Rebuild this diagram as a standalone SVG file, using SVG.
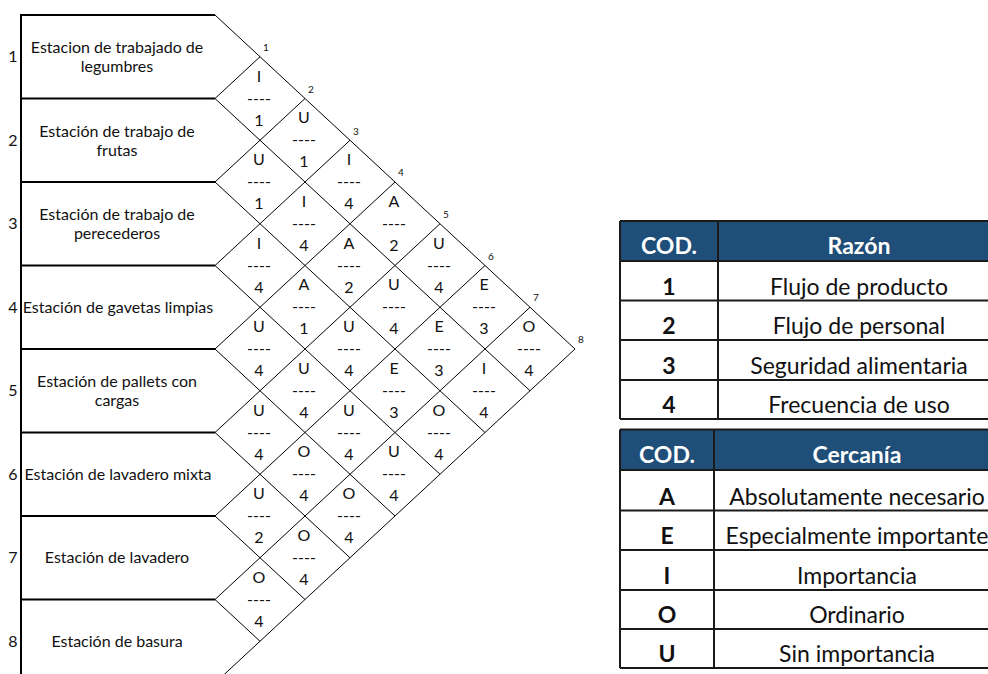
<svg xmlns="http://www.w3.org/2000/svg" width="988" height="674" viewBox="0 0 988 674">
  <style>
    text { font-family: Lato, "Liberation Sans", sans-serif; fill: #111; }
    .frame { stroke: #000; stroke-width: 2; fill: none; }
    .grid line { stroke: #000; stroke-width: 1; }
    .lbl { font-size: 16px; text-anchor: middle; }
    .rn { font-size: 16px; text-anchor: end; }
    .dt { font-size: 16px; text-anchor: middle; }
    .cn { font-size: 10px; }
    .hd { fill: #1F4E79; }
    .tl { stroke: #1a1a1a; stroke-width: 2; fill: none; }
    .th { font-size: 23px; font-weight: bold; fill: #fff; text-anchor: middle; }
    .td { font-size: 23px; text-anchor: middle; }
    .tc { font-size: 23px; font-weight: bold; text-anchor: middle; }
  </style>

  <!-- station boxes -->
  <g id="stations">
    <path class="frame" d="M21 674 V15 H215"/>
    <g id="st1"><line class="frame" x1="21" y1="98.5" x2="215" y2="98.5"/>
      <text class="rn" x="17.5" y="62">1</text>
      <text class="lbl" x="117" y="53">Estacion de trabajado de</text>
      <text class="lbl" x="117" y="72">legumbres</text></g>
    <g id="st2"><line class="frame" x1="21" y1="182" x2="215" y2="182"/>
      <text class="rn" x="17.5" y="145.5">2</text>
      <text class="lbl" x="117" y="136.5">Estación de trabajo de</text>
      <text class="lbl" x="117" y="155.5">frutas</text></g>
    <g id="st3"><line class="frame" x1="21" y1="265.5" x2="215" y2="265.5"/>
      <text class="rn" x="17.5" y="229">3</text>
      <text class="lbl" x="117" y="220">Estación de trabajo de</text>
      <text class="lbl" x="117" y="239">perecederos</text></g>
    <g id="st4"><line class="frame" x1="21" y1="349" x2="215" y2="349"/>
      <text class="rn" x="17.5" y="312.5">4</text>
      <text class="lbl" x="118" y="312.5">Estación de gavetas limpias</text></g>
    <g id="st5"><line class="frame" x1="21" y1="432.5" x2="215" y2="432.5"/>
      <text class="rn" x="17.5" y="396">5</text>
      <text class="lbl" x="117" y="387">Estación de pallets con</text>
      <text class="lbl" x="117" y="406">cargas</text></g>
    <g id="st6"><line class="frame" x1="21" y1="516" x2="215" y2="516"/>
      <text class="rn" x="17.5" y="479.5">6</text>
      <text class="lbl" x="118" y="479.5">Estación de lavadero mixta</text></g>
    <g id="st7"><line class="frame" x1="21" y1="599.5" x2="215" y2="599.5"/>
      <text class="rn" x="17.5" y="563">7</text>
      <text class="lbl" x="117" y="563">Estación de lavadero</text></g>
    <g id="st8">
      <text class="rn" x="17.5" y="646.5">8</text>
      <text class="lbl" x="117" y="646.5">Estación de basura</text></g>
  </g>

  <!-- relationship grid -->
  <g id="connectors" class="grid">
    <line x1="215" y1="15" x2="575" y2="349"/>
    <line x1="575" y1="349" x2="215" y2="683"/>
    <line x1="215" y1="98.5" x2="260" y2="56.75"/>
    <line x1="215" y1="182" x2="305" y2="98.5"/>
    <line x1="215" y1="265.5" x2="350" y2="140.25"/>
    <line x1="215" y1="349" x2="395" y2="182"/>
    <line x1="215" y1="432.5" x2="440" y2="223.75"/>
    <line x1="215" y1="516" x2="485" y2="265.5"/>
    <line x1="215" y1="599.5" x2="530" y2="307.25"/>
    <line x1="215" y1="98.5" x2="530" y2="390.75"/>
    <line x1="215" y1="182" x2="485" y2="432.5"/>
    <line x1="215" y1="265.5" x2="440" y2="474.25"/>
    <line x1="215" y1="349" x2="395" y2="516"/>
    <line x1="215" y1="432.5" x2="350" y2="557.75"/>
    <line x1="215" y1="516" x2="305" y2="599.5"/>
    <line x1="215" y1="599.5" x2="260" y2="641.25"/>
  </g>

  <!-- corner numbers -->
  <g id="corners" class="cn">
    <text x="263" y="51">1</text>
    <text x="308" y="93">2</text>
    <text x="353" y="134.5">3</text>
    <text x="398" y="176">4</text>
    <text x="443" y="218">5</text>
    <text x="488" y="259.5">6</text>
    <text x="533" y="301">7</text>
    <text x="578" y="343">8</text>
  </g>

  <!-- pair ratings: closeness / reason -->
  <g id="pairs" class="dt">
    <g id="p1-2"><text x="259" y="81.5">I<tspan x="259" dy="22">----</tspan><tspan x="259" dy="22">1</tspan></text></g>
    <g id="p2-3"><text x="259" y="165">U<tspan x="259" dy="22">----</tspan><tspan x="259" dy="22">1</tspan></text></g>
    <g id="p3-4"><text x="259" y="248.5">I<tspan x="259" dy="22">----</tspan><tspan x="259" dy="22">4</tspan></text></g>
    <g id="p4-5"><text x="259" y="332">U<tspan x="259" dy="22">----</tspan><tspan x="259" dy="22">4</tspan></text></g>
    <g id="p5-6"><text x="259" y="415.5">U<tspan x="259" dy="22">----</tspan><tspan x="259" dy="22">4</tspan></text></g>
    <g id="p6-7"><text x="259" y="499">U<tspan x="259" dy="22">----</tspan><tspan x="259" dy="22">2</tspan></text></g>
    <g id="p7-8"><text x="259" y="582.5">O<tspan x="259" dy="22">----</tspan><tspan x="259" dy="22">4</tspan></text></g>

    <g id="p1-3"><text x="304" y="123.25">U<tspan x="304" dy="22">----</tspan><tspan x="304" dy="22">1</tspan></text></g>
    <g id="p2-4"><text x="304" y="206.75">I<tspan x="304" dy="22">----</tspan><tspan x="304" dy="22">4</tspan></text></g>
    <g id="p3-5"><text x="304" y="290.25">A<tspan x="304" dy="22">----</tspan><tspan x="304" dy="22">1</tspan></text></g>
    <g id="p4-6"><text x="304" y="373.75">U<tspan x="304" dy="22">----</tspan><tspan x="304" dy="22">4</tspan></text></g>
    <g id="p5-7"><text x="304" y="457.25">O<tspan x="304" dy="22">----</tspan><tspan x="304" dy="22">4</tspan></text></g>
    <g id="p6-8"><text x="304" y="540.75">O<tspan x="304" dy="22">----</tspan><tspan x="304" dy="22">4</tspan></text></g>

    <g id="p1-4"><text x="349" y="165">I<tspan x="349" dy="22">----</tspan><tspan x="349" dy="22">4</tspan></text></g>
    <g id="p2-5"><text x="349" y="248.5">A<tspan x="349" dy="22">----</tspan><tspan x="349" dy="22">2</tspan></text></g>
    <g id="p3-6"><text x="349" y="332">U<tspan x="349" dy="22">----</tspan><tspan x="349" dy="22">4</tspan></text></g>
    <g id="p4-7"><text x="349" y="415.5">U<tspan x="349" dy="22">----</tspan><tspan x="349" dy="22">4</tspan></text></g>
    <g id="p5-8"><text x="349" y="499">O<tspan x="349" dy="22">----</tspan><tspan x="349" dy="22">4</tspan></text></g>

    <g id="p1-5"><text x="394" y="206.75">A<tspan x="394" dy="22">----</tspan><tspan x="394" dy="22">2</tspan></text></g>
    <g id="p2-6"><text x="394" y="290.25">U<tspan x="394" dy="22">----</tspan><tspan x="394" dy="22">4</tspan></text></g>
    <g id="p3-7"><text x="394" y="373.75">E<tspan x="394" dy="22">----</tspan><tspan x="394" dy="22">3</tspan></text></g>
    <g id="p4-8"><text x="394" y="457.25">U<tspan x="394" dy="22">----</tspan><tspan x="394" dy="22">4</tspan></text></g>

    <g id="p1-6"><text x="439" y="248.5">U<tspan x="439" dy="22">----</tspan><tspan x="439" dy="22">4</tspan></text></g>
    <g id="p2-7"><text x="439" y="332">E<tspan x="439" dy="22">----</tspan><tspan x="439" dy="22">3</tspan></text></g>
    <g id="p3-8"><text x="439" y="415.5">O<tspan x="439" dy="22">----</tspan><tspan x="439" dy="22">4</tspan></text></g>

    <g id="p1-7"><text x="484" y="290.25">E<tspan x="484" dy="22">----</tspan><tspan x="484" dy="22">3</tspan></text></g>
    <g id="p2-8"><text x="484" y="373.75">I<tspan x="484" dy="22">----</tspan><tspan x="484" dy="22">4</tspan></text></g>

    <g id="p1-8"><text x="529" y="332">O<tspan x="529" dy="22">----</tspan><tspan x="529" dy="22">4</tspan></text></g>
  </g>

  <!-- legend: reasons -->
  <g id="tabla-razon">
    <rect class="hd" x="620" y="221" width="380" height="40"/>
    <path class="tl" d="M620 221 H1000 M620 261 H1000 M620 300.5 H1000 M620 340 H1000 M620 380 H1000 M620 419 H1000 M620 221 V419 M718 221 V419"/>
    <text class="th" x="669" y="254">COD.</text>
    <text class="th" x="859" y="254">Razón</text>
    <text class="tc" x="669" y="294.5">1</text>
    <text class="td" x="859" y="294.5">Flujo de producto</text>
    <text class="tc" x="669" y="334">2</text>
    <text class="td" x="859" y="334">Flujo de personal</text>
    <text class="tc" x="669" y="374">3</text>
    <text class="td" x="859" y="374">Seguridad alimentaria</text>
    <text class="tc" x="669" y="413">4</text>
    <text class="td" x="859" y="413">Frecuencia de uso</text>
  </g>

  <!-- legend: closeness -->
  <g id="tabla-cercania">
    <rect class="hd" x="620" y="429.5" width="380" height="40.5"/>
    <path class="tl" d="M620 429.5 H1000 M620 470 H1000 M620 510.5 H1000 M620 550 H1000 M620 590 H1000 M620 629 H1000 M620 668 H1000 M620 429.5 V668 M714 429.5 V668"/>
    <text class="th" x="667" y="463">COD.</text>
    <text class="th" x="857" y="463">Cercanía</text>
    <text class="tc" x="667" y="504.5">A</text>
    <text class="td" x="857" y="504.5">Absolutamente necesario</text>
    <text class="tc" x="667" y="544">E</text>
    <text class="td" x="857" y="544">Especialmente importante</text>
    <text class="tc" x="667" y="584">I</text>
    <text class="td" x="857" y="584">Importancia</text>
    <text class="tc" x="667" y="623">O</text>
    <text class="td" x="857" y="623">Ordinario</text>
    <text class="tc" x="667" y="662">U</text>
    <text class="td" x="857" y="662">Sin importancia</text>
  </g>
</svg>
